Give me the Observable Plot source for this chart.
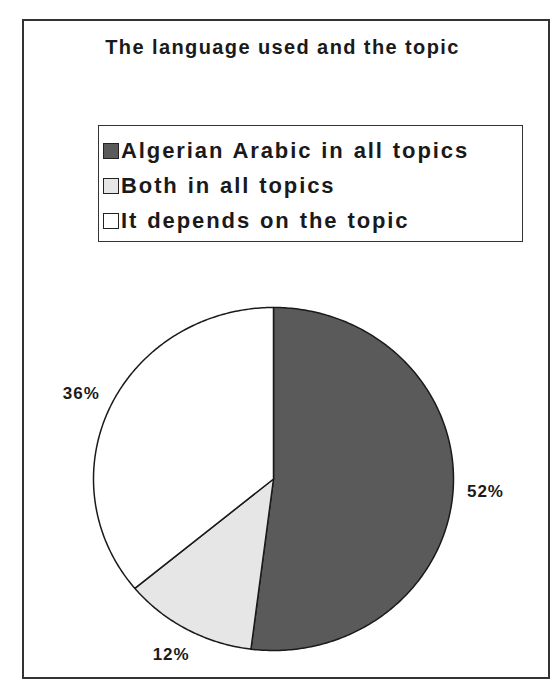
<!DOCTYPE html>
<html><head><meta charset="utf-8">
<script src="https://cdn.jsdelivr.net/npm/d3@7"></script>
<script src="https://cdn.jsdelivr.net/npm/@observablehq/plot@0.6"></script>
<style>
html,body{margin:0;padding:0;background:#fff;}
#wrap{position:relative;width:555px;height:679px;overflow:hidden;font-family:"Liberation Sans",Arial,sans-serif;}
#frame{position:absolute;left:22px;top:19px;width:524px;height:656px;border:2px solid #333;}
#title{position:absolute;left:0;width:565px;top:36px;text-align:center;font-weight:bold;font-size:20px;letter-spacing:1.4px;color:#1a1a1a;}
#legend{position:absolute;left:98px;top:125px;width:423px;height:115px;border:1.5px solid #333;}
.row{position:absolute;left:4px;height:30px;display:flex;align-items:center;font-weight:bold;font-size:22px;letter-spacing:1.9px;word-spacing:1px;color:#1a1a1a;white-space:nowrap;}
.sw{width:16px;height:16px;border:1px solid #222;margin-right:2px;box-sizing:border-box;}
#chart{position:absolute;left:0;top:280px;}
</style></head>
<body>
<div id="wrap">
<div id="frame"></div>
<div id="title"></div>
<div id="legend"></div>
<div id="chart"></div>
</div>
<script>
const title = "The language used and the topic";
const categories = ["Algerian Arabic in all topics", "Both in all topics", "It depends on the topic"];
const values = [52, 12, 36];
const labels = ["52%", "12%", "36%"];
const colors = ["#5a5a5a", "#e6e6e6", "#ffffff"];

document.getElementById("title").textContent = title;
const legend = document.getElementById("legend");
categories.forEach((c, i) => {
  const row = document.createElement("div");
  row.className = "row";
  row.style.top = (10 + i * 35) + "px";
  const sw = document.createElement("div");
  sw.className = "sw";
  sw.style.background = colors[i];
  row.appendChild(sw);
  const t = document.createElement("span");
  t.textContent = c;
  row.appendChild(t);
  legend.appendChild(row);
});

const data = categories.map((c, i) => ({category: c, value: values[i], label: labels[i], color: colors[i]}));
const arcs = d3.pie().sort(null).value(d => d.value)(data);

const slices = arcs.map((a, i) => {
  const pts = [{x: 0, y: 0}];
  const n = Math.max(4, Math.ceil((a.endAngle - a.startAngle) * 80));
  for (let k = 0; k <= n; k++) {
    const t = a.startAngle + (a.endAngle - a.startAngle) * k / n;
    pts.push({x: Math.sin(t), y: Math.cos(t)});
  }
  return pts;
});
const labelPts = arcs.map(a => {
  const m = (a.startAngle + a.endAngle) / 2;
  return {x: 1.18 * Math.sin(m), y: 1.17 * Math.cos(m), label: a.data.label};
});

const chart = Plot.plot({
  width: 555,
  height: 399,
  margin: 0,
  x: {domain: [-1, 1], range: [93, 453], axis: null},
  y: {domain: [-1, 1], range: [370, 27], axis: null},
  marks: [
    ...slices.map((pts, i) => Plot.line(pts, {x: "x", y: "y", curve: "linear-closed", fill: colors[i], stroke: "#1a1a1a", strokeWidth: 1.5})),
    Plot.text(labelPts, {x: "x", y: "y", text: "label", fontWeight: "bold", fontSize: 17, fill: "#1a1a1a", fontFamily: "Liberation Sans, Arial, sans-serif", style: {letterSpacing: "1px"}})
  ]
});
chart.querySelectorAll("text").forEach(t => t.style.letterSpacing = "1px");
document.getElementById("chart").appendChild(chart);
</script>
</body></html>
